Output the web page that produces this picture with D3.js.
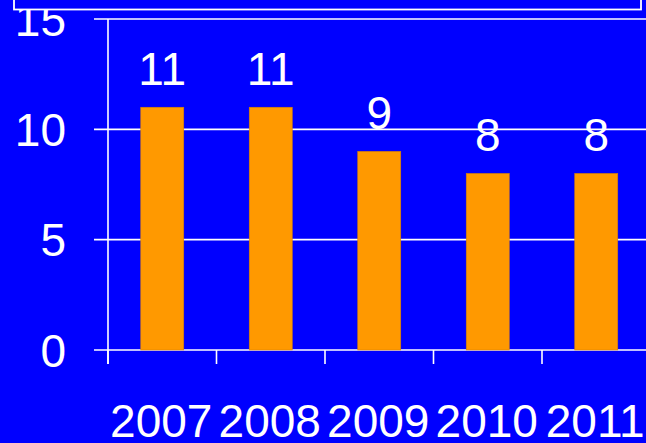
<!DOCTYPE html>
<html>
<head>
<meta charset="utf-8">
<script src="https://cdn.jsdelivr.net/npm/d3@7"></script>
<style>
  html, body { margin: 0; padding: 0; background: #0000ff; }
  svg { display: block; }
  text { font-family: "Liberation Sans", Arial, sans-serif; fill: #ffffff; }
</style>
</head>
<body>
<svg id="chart" width="646" height="443"></svg>
<script>
// Yearly counts
const years = ["2007", "2008", "2009", "2010", "2011"];
const counts = [11, 11, 9, 8, 8];
const yTicks = [0, 5, 10, 15];

const svg = d3.select("#chart");
const W = 646, H = 443;

svg.append("rect").attr("width", W).attr("height", H).attr("fill", "#0000ff");

const x = d3.scaleBand()
  .domain(years)
  .range([108, 650.5])
  .paddingInner(0.6037)
  .paddingOuter(0.30185);

const y = d3.scaleLinear().domain([0, 15]).range([350, 19]);

// Horizontal gridlines, each starting with a short tick left of the axis
svg.append("g")
  .selectAll("line")
  .data(yTicks)
  .join("line")
  .attr("x1", 94)
  .attr("x2", W)
  .attr("y1", d => y(d))
  .attr("y2", d => y(d))
  .attr("stroke", "#ffffff")
  .attr("stroke-width", 1.6);

// Y axis tick labels
svg.append("g")
  .selectAll("text")
  .data(yTicks)
  .join("text")
  .attr("x", 66)
  .attr("y", d => y(d))
  .attr("dy", "0.36em")
  .attr("text-anchor", "end")
  .attr("font-size", 46)
  .text(d => d);

// Bars
svg.append("g")
  .selectAll("rect")
  .data(counts)
  .join("rect")
  .attr("x", (d, i) => x(years[i]))
  .attr("y", d => y(d))
  .attr("width", x.bandwidth())
  .attr("height", d => y(0) - y(d))
  .attr("fill", "#ff9900")
  .attr("stroke", "#d98200")
  .attr("stroke-width", 0.6);

// Value labels above bars
svg.append("g")
  .selectAll("text")
  .data(counts)
  .join("text")
  .attr("x", (d, i) => x(years[i]) + x.bandwidth() / 2)
  .attr("y", d => y(d) - 22)
  .attr("text-anchor", "middle")
  .attr("font-size", 46)
  .text(d => d);

// Y axis line
svg.append("line")
  .attr("x1", 108).attr("x2", 108)
  .attr("y1", y(15)).attr("y2", 364)
  .attr("stroke", "#ffffff").attr("stroke-width", 1.6);

// X axis tick marks at category boundaries
const step = x.step();
const bounds = d3.range(years.length).map(i => x.range()[0] + i * step);
svg.append("g")
  .selectAll("line")
  .data(bounds)
  .join("line")
  .attr("x1", d => d).attr("x2", d => d)
  .attr("y1", y(0)).attr("y2", 364)
  .attr("stroke", "#ffffff").attr("stroke-width", 1.6);

// X axis category labels
svg.append("g")
  .selectAll("text")
  .data(years)
  .join("text")
  .attr("x", d => x(d) + x.bandwidth() / 2 - 1)
  .attr("y", 437)
  .attr("text-anchor", "middle")
  .attr("font-size", 46)
  .text(d => d);

// Framed panel along the top edge
svg.append("rect")
  .attr("x", 14).attr("y", -40)
  .attr("width", 627).attr("height", 49.5)
  .attr("fill", "#0000ff")
  .attr("stroke", "#ffffff")
  .attr("stroke-width", 1.8);
</script>
</body>
</html>
